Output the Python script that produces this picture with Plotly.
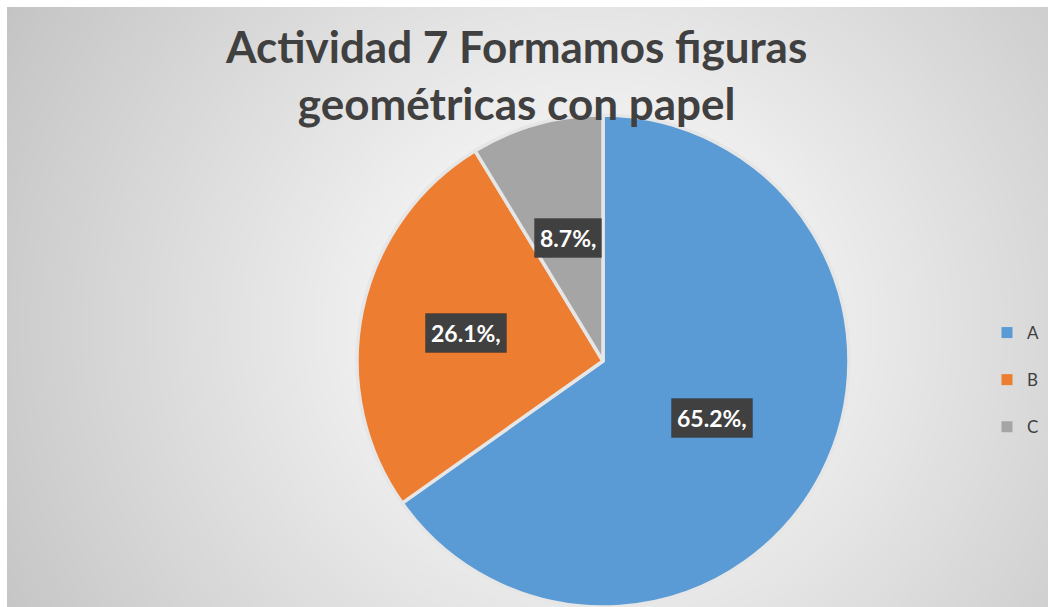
import numpy as np
import plotly.graph_objects as go

# ---- data ----
categories = ["A", "B", "C"]
values = [65.2, 26.1, 8.7]
label_texts = ["65.2%,", "26.1%,", "8.7%,"]
colors = ["#5B9BD5", "#ED7D31", "#A5A5A5"]
title_text = "Actividad 7 Formamos figuras<br>geométricas con papel"

W, H = 1055, 607

fig = go.Figure()

# radial grey background (chart area)
nx, ny = 80, 50
gx = np.linspace(0, 1, nx)
gy = np.linspace(0, 1, ny)
X, Y = np.meshgrid(gx, gy)
D = np.sqrt(((X - 0.56) * 1.0) ** 2 + ((Y - 0.47) * 0.6) ** 2)
fig.add_trace(go.Heatmap(
    x=gx, y=gy, z=D, zsmooth="best", showscale=False, hoverinfo="skip",
    colorscale=[[0, "#ffffff"], [0.15, "#fafafa"], [1, "#c4c4c4"]],
    xaxis="x", yaxis="y",
))

# pie
pie_y = [0.0, 492 / H]
half = (pie_y[1] - pie_y[0]) * H / 2
pie_x = [(603 - half) / W, (603 + half) / W]
fig.add_trace(go.Pie(
    labels=categories, values=values, sort=False, direction="clockwise",
    rotation=0, marker=dict(colors=colors, line=dict(color="#e6e6e6", width=3.5)),
    textinfo="none", showlegend=False, hoverinfo="label+percent",
    domain=dict(x=pie_x, y=pie_y),
))

# legend entries
for cat, col in zip(categories, colors):
    fig.add_trace(go.Scatter(
        x=[None], y=[None], mode="markers", name=cat, legendgroup=cat,
        marker=dict(symbol="square", size=11, color=col),
        xaxis="x", yaxis="y",
    ))

# data labels as dark boxes, positioned from slice angles
cx = (pie_x[0] + pie_x[1]) / 2 * W
cy_px = H - (pie_y[0] + pie_y[1]) / 2 * H
R = half
label_r = [0.50, 0.57, 0.52]
total = sum(values)
cum = 0
for v, t, lr in zip(values, label_texts, label_r):
    mid = (cum + v / 2) / total * 2 * np.pi
    cum += v
    px = cx + lr * R * np.sin(mid)
    py = cy_px - lr * R * np.cos(mid)
    xp, yp = px / W, 1 - py / H
    fig.add_annotation(x=xp, y=yp, xref="paper", yref="paper",
                       xanchor="center", yanchor="middle",
                       text="<b>" + t + "</b>", showarrow=False, bgcolor="#404040",
                       bordercolor="rgba(0,0,0,0.18)", borderwidth=1,
                       font=dict(family="Lato", size=23, color="#ffffff"),
                       borderpad=5)

# title
fig.add_annotation(x=516 / W, y=1 - 18 / H, xref="paper", yref="paper",
                   xanchor="center", yanchor="top", showarrow=False,
                   text="<b>" + title_text + "</b>",
                   font=dict(family="Lato", size=44, color="#404040"))

fig.update_layout(
    width=W, height=H,
    margin=dict(l=0, r=0, t=0, b=0),
    paper_bgcolor="#ffffff", plot_bgcolor="rgba(0,0,0,0)",
    xaxis=dict(domain=[7 / W, 1048 / W], range=[0, 1], visible=False, fixedrange=True),
    yaxis=dict(domain=[0, 600 / H], range=[0, 1], visible=False, fixedrange=True),
    legend=dict(x=987 / W, xanchor="left", y=1 - 380 / H, yanchor="middle",
                font=dict(family="Lato", size=17, color="#404040"),
                bgcolor="rgba(0,0,0,0)", tracegroupgap=22),
    showlegend=True,
)

fig.write_html("out.html", config={"displayModeBar": False},
               post_script="document.body.style.margin='0';")
